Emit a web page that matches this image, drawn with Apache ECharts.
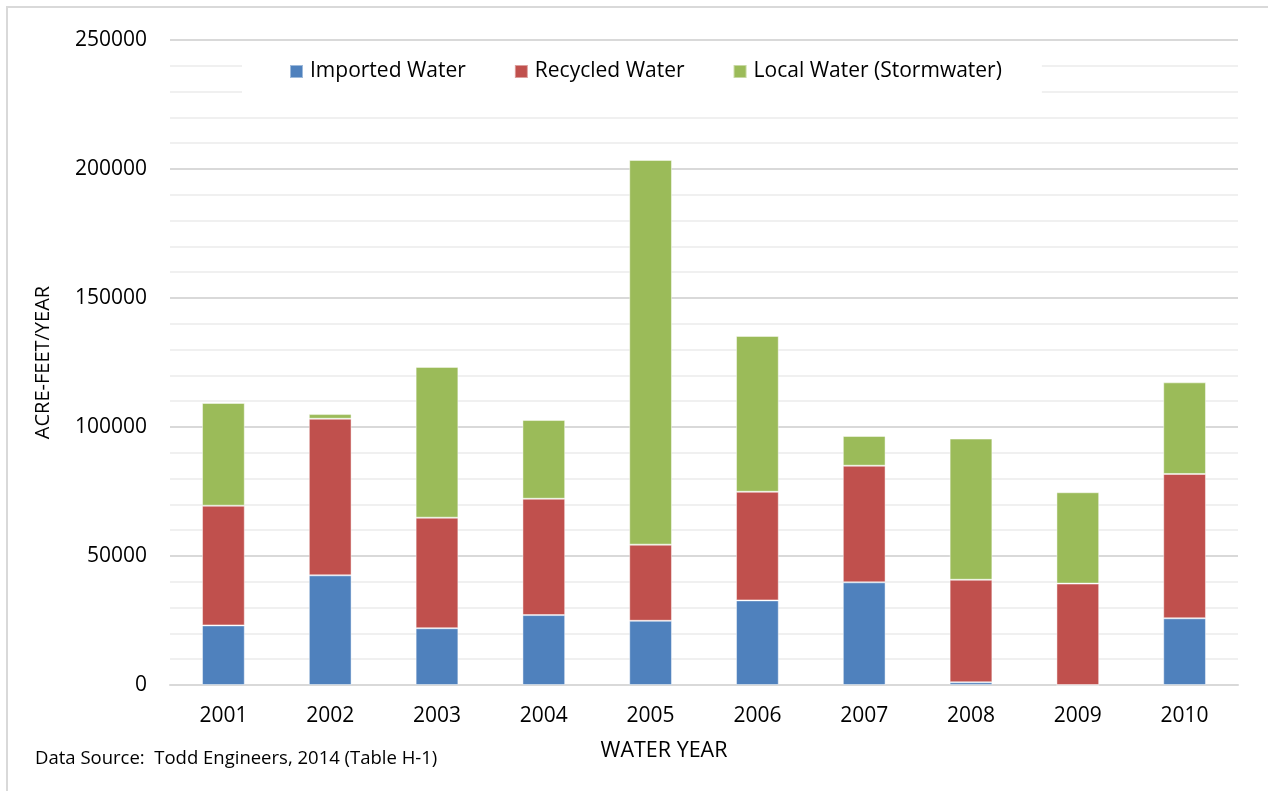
<!DOCTYPE html>
<html>
<head>
<meta charset="utf-8">
<script src="https://cdn.jsdelivr.net/npm/echarts@6/dist/echarts.min.js"></script>
<style>
html,body{margin:0;padding:0;background:#fff;}
#chart{width:1268px;height:791px;}
</style>
</head>
<body>
<div id="chart"></div>
<script>
var categories = ['2001','2002','2003','2004','2005','2006','2007','2008','2009','2010'];
var importedWater = [23100, 42500, 22000, 27100, 24900, 32800, 39800, 1050, 0, 25850];
var recycledWater = [46400, 60700, 42850, 45100, 29500, 42100, 45200, 39750, 39300, 55950];
var localWater = [39800, 1800, 58450, 30500, 149100, 60400, 11500, 54700, 35400, 35500];
var seriesNames = ['Imported Water', 'Recycled Water', 'Local Water (Stormwater)'];
var yTicks = [0, 50000, 100000, 150000, 200000, 250000];

var FONT = 'Open Sans';
var chart = echarts.init(document.getElementById('chart'), null, {renderer: 'canvas'});

function barSeries(name, data, color) {
  return {
    name: name,
    type: 'bar',
    stack: 'total',
    barWidth: '40%',
    data: data,
    itemStyle: {color: color, borderColor: 'rgba(255,255,255,0.45)', borderWidth: 1},
    emphasis: {disabled: true}
  };
}

chart.setOption({
  animation: false,
  backgroundColor: '#ffffff',
  textStyle: {fontFamily: FONT},
  grid: {left: 170, right: 30, top: 40, bottom: 106, containLabel: false},
  legend: {
    left: 242, top: 48,
    padding: [13, 40, 13, 47],
    backgroundColor: '#ffffff',
    itemWidth: 13, itemHeight: 13, itemGap: 48,
    icon: 'rect',
    textStyle: {fontFamily: FONT, fontSize: 21, color: '#000', padding: [0, 0, 0, 2]},
    data: seriesNames
  },
  xAxis: {
    type: 'category',
    data: categories,
    axisLine: {lineStyle: {color: '#d9d9d9', width: 2}},
    axisTick: {show: false},
    axisLabel: {fontFamily: FONT, fontSize: 21, color: '#000', margin: 21}
  },
  yAxis: {
    type: 'value',
    min: yTicks[0], max: yTicks[yTicks.length - 1], interval: 50000,
    name: 'ACRE-FEET/YEAR',
    nameLocation: 'middle',
    nameGap: 117,
    nameTextStyle: {fontFamily: FONT, fontSize: 20, color: '#000'},
    axisLine: {show: false},
    axisTick: {show: false},
    axisLabel: {fontFamily: FONT, fontSize: 21, color: '#000', margin: 23,
      formatter: function (v) { return String(v); }},
    splitLine: {lineStyle: {color: '#d9d9d9', width: 2}},
    minorTick: {show: false, splitNumber: 5},
    minorSplitLine: {show: true, lineStyle: {color: '#f0f0f0', width: 2}}
  },
  graphic: [
    {type: 'rect', z: -10, silent: true, shape: {x: 7, y: 7, width: 1400, height: 1000},
     style: {fill: 'none', stroke: '#d9d9d9', lineWidth: 2}},
    {type: 'text', x: 35, y: 759, silent: true,
     style: {text: 'Data Source:  Todd Engineers, 2014 (Table H-1)', fill: '#000', font: '18.5px "' + FONT + '"', textVerticalAlign: 'middle'}},
    {type: 'text', x: 664, y: 751, silent: true,
     style: {text: 'WATER YEAR', fill: '#000', font: '21.5px "' + FONT + '"', textAlign: 'center', textVerticalAlign: 'middle'}}
  ],
  series: [
    barSeries(seriesNames[0], importedWater, '#4F81BD'),
    barSeries(seriesNames[1], recycledWater, '#C0504D'),
    barSeries(seriesNames[2], localWater, '#9BBB59')
  ]
});
</script>
</body>
</html>
